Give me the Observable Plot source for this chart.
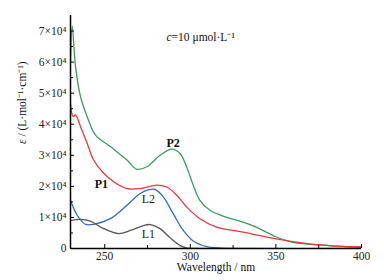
<!DOCTYPE html>
<html><head><meta charset="utf-8">
<script src="https://cdn.jsdelivr.net/npm/d3@7"></script>
<script src="https://cdn.jsdelivr.net/npm/@observablehq/plot@0.6"></script>
<style>
html,body{margin:0;padding:0;background:#fff;}
#chart svg{background:#f8f8f8;box-shadow:inset 0 0 0 7px #fff;display:block;}
#chart svg, #chart svg text{font-family:"Liberation Serif","Times New Roman",serif !important;}
</style></head>
<body><div id="chart"></div>
<script>
const wl_P2 = [230,231,232.9,235.8,239.7,244.5,253.3,263,268.8,274.6,282.3,289.1,294,297.8,301.7,305.6,311.4,321,330.8,338.5,350.2,359.8,379.2,400];
const eps_P2 = [60000,71600,58700,49000,42500,36600,32800,28500,25500,26300,30000,32000,30600,26300,20400,15500,12300,10100,8500,6900,3700,2000,1000,400];
const wl_P1 = [230,231.5,232.9,235.8,239.7,243.5,249.4,255.2,263,270.7,280.4,286.2,292,297.8,305.6,315.3,330.8,350.2,369.5,388.9,400];
const eps_P1 = [46800,42500,43000,39300,33900,28500,24200,21500,19300,19300,20400,19800,17200,13400,9600,6900,5300,3100,1500,700,500];
const wl_L2 = [230,233.9,238.7,243.5,253.3,263,270.7,276.5,279.4,284.2,290,295.9,301.7,309.5,317,330,400];
const eps_L2 = [15500,10700,7800,7800,9600,13900,17700,19000,19000,16600,11200,5800,2400,600,200,0,0];
const wl_L1 = [230,235.8,241.6,249.4,258.1,265,272.6,276.5,282.3,288.1,293.9,297.8,305,400];
const eps_L1 = [9000,9400,8800,6400,4800,5800,7400,7700,6400,3500,1000,200,0,0];

const seriesNames = ["P2","P1","L2","L1"];
const seriesColors = ["#3a9d5d","#e8383d","#2f6fbd","#555555"];
const xMajor = [250,300,350,400];
const xMinor = [275,325,375];
const yMajor = [0,10000,20000,30000,40000,50000,60000,70000];
const yMinor = [5000,15000,25000,35000,45000,55000,65000];

const mk = (wl, eps, s) => wl.map((w,i)=>({wl:w, eps:eps[i], s}));
const data = [...mk(wl_P2,eps_P2,"P2"),...mk(wl_P1,eps_P1,"P1"),...mk(wl_L2,eps_L2,"L2"),...mk(wl_L1,eps_L1,"L1")];

const boldLabels = [
  {wl:290, eps:33800, t:"P2"},
  {wl:248, eps:20600, t:"P1"}
];
const plainLabels = [
  {wl:275.5, eps:15800, t:"L2"},
  {wl:275.5, eps:4700, t:"L1"}
];

const fmtY = d => d===0 ? "0" : `${d/10000}×10⁴`;

const chart = Plot.plot({
  width:384, height:280,
  marginLeft:70, marginRight:23, marginTop:15, marginBottom:32,
  style:{fontSize:"11px", color:"#222", background:"transparent"},
  x:{domain:[230,400]},
  y:{domain:[0,75000]},
  color:{domain:seriesNames, range:seriesColors},
  marks:[
    Plot.line(data,{x:"wl",y:"eps",z:"s",stroke:"s",strokeWidth:1.3,curve:"catmull-rom",clip:true}),
    Plot.axisX({ticks:xMajor, tickSize:0, tickPadding:3, tickFormat:d=>String(d), label:null, fontSize:11.5}),
    Plot.axisX({ticks:xMajor, tickSize:4, dy:-4, text:null, label:null, stroke:"#000"}),
    Plot.axisX({ticks:xMinor, tickSize:3, dy:-3, text:null, label:null, stroke:"#000"}),
    Plot.axisY({ticks:yMajor, tickSize:0, tickPadding:4, tickFormat:fmtY, label:null, fontSize:11.5}),
    Plot.axisY({ticks:yMajor, tickSize:4, dx:4, text:null, label:null, stroke:"#000"}),
    Plot.axisY({ticks:yMinor, tickSize:3, dx:3, text:null, label:null, stroke:"#000"}),
    Plot.ruleY([0],{stroke:"#000",strokeWidth:1.5}),
    Plot.ruleX([230],{y1:0,y2:75000,stroke:"#000",strokeWidth:1.5}),
    Plot.text(boldLabels,{x:"wl",y:"eps",text:"t",fontWeight:"bold",fontSize:12,fill:"#111"}),
    Plot.text(plainLabels,{x:"wl",y:"eps",text:"t",fontSize:12,fill:"#222"}),
    Plot.text(["c=10 μmol·L⁻¹"],{frameAnchor:"top-left",dx:96,dy:17,fontSize:11.5,fill:"#111",textAnchor:"start"}),
    Plot.text(["Wavelength / nm"],{frameAnchor:"bottom",dy:22,fontSize:11.5,fill:"#111"}),
    Plot.text(["ε / (L·mol⁻¹·cm⁻¹)"],{frameAnchor:"left",dx:-48,dy:12,rotate:-90,fontSize:11.5,fill:"#111"})
  ]
});
document.getElementById("chart").appendChild(chart);

// italicize variable symbols
d3.select(chart).selectAll("text").each(function(){
  const el = d3.select(this);
  const t = this.textContent;
  if (t === "c=10 μmol·L⁻¹") {
    el.text(null);
    el.append("tspan").attr("font-style","italic").text("c");
    el.append("tspan").text("=10 μmol·L⁻¹");
  } else if (t === "ε / (L·mol⁻¹·cm⁻¹)") {
    el.text(null);
    el.append("tspan").attr("font-style","italic").text("ε");
    el.append("tspan").text(" / (L·mol⁻¹·cm⁻¹)");
  }
});
</script></body></html>
